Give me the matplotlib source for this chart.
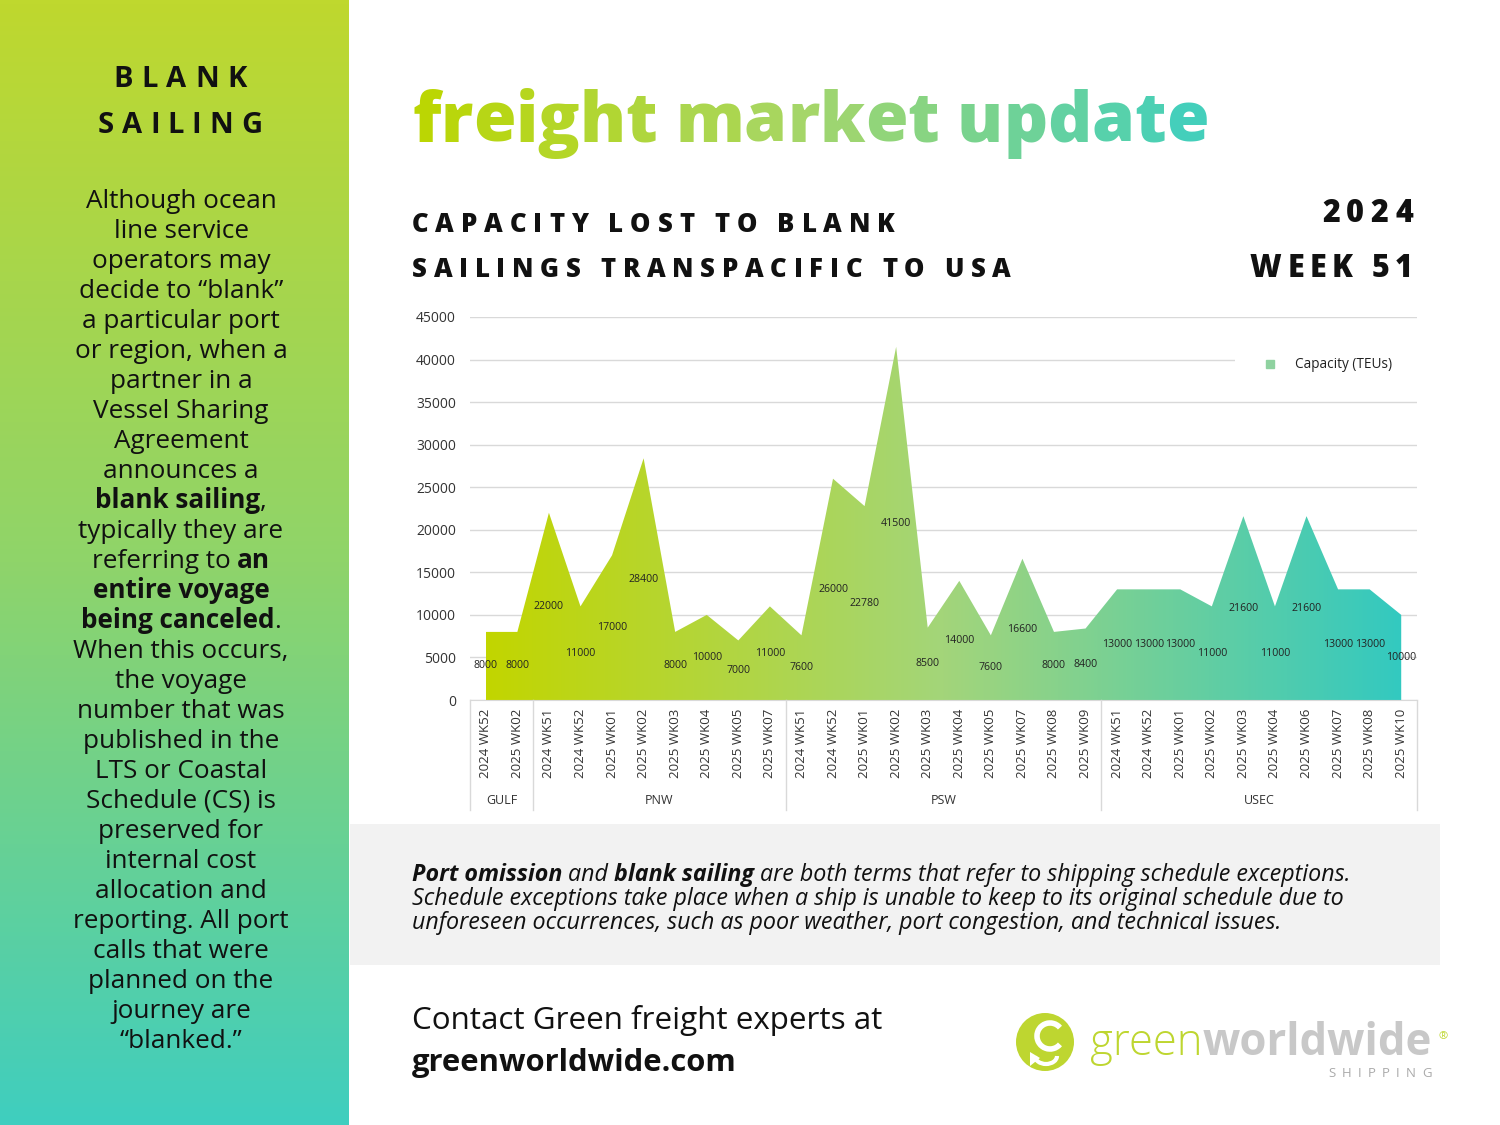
import numpy as np
import matplotlib.pyplot as plt
from matplotlib.colors import LinearSegmentedColormap
from matplotlib.patches import Rectangle, Circle, Arc, Polygon

W, H = 1500, 1125
FONT = 'Open Sans'

# ---- data ----
regions = ['GULF', 'PNW', 'PSW', 'USEC']
gulf_weeks = ['2024 WK52', '2025 WK02']
gulf_teu = [8000, 8000]
pnw_weeks = ['2024 WK51', '2024 WK52', '2025 WK01', '2025 WK02', '2025 WK03',
             '2025 WK04', '2025 WK05', '2025 WK07']
pnw_teu = [22000, 11000, 17000, 28400, 8000, 10000, 7000, 11000]
psw_weeks = ['2024 WK51', '2024 WK52', '2025 WK01', '2025 WK02', '2025 WK03',
             '2025 WK04', '2025 WK05', '2025 WK07', '2025 WK08', '2025 WK09']
psw_teu = [7600, 26000, 22780, 41500, 8500, 14000, 7600, 16600, 8000, 8400]
usec_weeks = ['2024 WK51', '2024 WK52', '2025 WK01', '2025 WK02', '2025 WK03',
              '2025 WK04', '2025 WK06', '2025 WK07', '2025 WK08', '2025 WK10']
usec_teu = [13000, 13000, 13000, 11000, 21600, 11000, 21600, 13000, 13000, 10000]

group_weeks = [gulf_weeks, pnw_weeks, psw_weeks, usec_weeks]
group_teu = [gulf_teu, pnw_teu, psw_teu, usec_teu]
weeks = sum(group_weeks, [])
teu = sum(group_teu, [])

side_cmap = LinearSegmentedColormap.from_list('side', ['#bfd82e', '#8fd46a', '#3fcebf'])
fill_cmap = LinearSegmentedColormap.from_list('fill', ['#c2d600', '#a3d57a', '#33c9c0'])
title_cmap = LinearSegmentedColormap.from_list('title', ['#bcd600', '#a5d66a', '#3fcfbf'])

fig = plt.figure(figsize=(15, 11.25), dpi=100)
bg = fig.add_axes([0, 0, 1, 1])
bg.axis('off')
rend = fig.canvas.get_renderer()


def width_of(s, size, weight='normal', style='normal'):
    t = bg.text(0, 0, s + '|', fontsize=size, fontweight=weight, fontstyle=style, family=FONT)
    u = bg.text(0, 0, '|', fontsize=size, fontweight=weight, fontstyle=style, family=FONT)
    w = t.get_window_extent(rend).width - u.get_window_extent(rend).width
    t.remove()
    u.remove()
    return w


def fit_size(s, target, weight='normal', style='normal'):
    return 20 * target / width_of(s, 20, weight, style)


def rich(x, y, parts, size, ha='left', color='#111111'):
    ws = [width_of(s, size, w, st) for s, w, st in parts]
    total = sum(ws)
    cx = {'left': x, 'center': x - total / 2, 'right': x - total}[ha]
    for (s, w, st), wd in zip(parts, ws):
        bg.text(cx, y, s, fontsize=size, fontweight=w, fontstyle=st, family=FONT,
                color=color, ha='left', va='baseline')
        cx += wd


def spaced(x, y, s, size, target=None, ha='left', weight='bold', color='#111111', cmap=None):
    ws = [width_of(c, size, weight) for c in s]
    track = (target - sum(ws)) / (len(s) - 1) if target else 0
    total = sum(ws) + track * (len(s) - 1)
    cx = {'left': x, 'center': x - total / 2, 'right': x - total}[ha]
    start = cx
    for c, wd in zip(s, ws):
        col = cmap((cx + wd / 2 - start) / total) if cmap else color
        bg.text(cx, y, c, fontsize=size, fontweight=weight, family=FONT,
                color=col, ha='left', va='baseline')
        cx += wd + track


# ---- left panel ----
bg.imshow(np.linspace(0, 1, 256).reshape(-1, 1), cmap=side_cmap,
          extent=[0, 349, H, 0], aspect='auto', zorder=0)
bg.set_xlim(0, W)
bg.set_ylim(H, 0)

spaced(180, 87, 'BLANK', 21, target=133, ha='center')
spaced(180, 133, 'SAILING', 21, target=164, ha='center')

N, B = 'normal', 'bold'
side_lines = [
    [('Although ocean', N, N)],
    [('line service', N, N)],
    [('operators may', N, N)],
    [('decide to \u201cblank\u201d', N, N)],
    [('a particular port', N, N)],
    [('or region, when a', N, N)],
    [('partner in a', N, N)],
    [('Vessel Sharing', N, N)],
    [('Agreement', N, N)],
    [('announces a', N, N)],
    [('blank sailing', B, N), (',', N, N)],
    [('typically they are', N, N)],
    [('referring to ', N, N), ('an', B, N)],
    [('entire voyage', B, N)],
    [('being canceled', B, N), ('.', N, N)],
    [('When this occurs,', N, N)],
    [('the voyage', N, N)],
    [('number that was', N, N)],
    [('published in the', N, N)],
    [('LTS or Coastal', N, N)],
    [('Schedule (CS) is', N, N)],
    [('preserved for', N, N)],
    [('internal cost', N, N)],
    [('allocation and', N, N)],
    [('reporting. All port', N, N)],
    [('calls that were', N, N)],
    [('planned on the', N, N)],
    [('journey are', N, N)],
    [('\u201cblanked.\u201d', N, N)],
]
side_size = fit_size('reporting. All port', 216)
for i, parts in enumerate(side_lines):
    rich(181, 208 + 30 * i, parts, side_size, ha='center')

# ---- title and headings ----
title_size = fit_size('freight market update', 795, weight='heavy')
spaced(412, 142, 'freight market update', title_size, weight='heavy', cmap=title_cmap)

spaced(412, 232, 'CAPACITY LOST TO BLANK', 18.5, target=483, weight='heavy')
spaced(412, 277, 'SAILINGS TRANSPACIFIC TO USA', 18.5, target=599, weight='heavy')
spaced(1413, 222, '2024', 22, target=91, ha='right', weight='heavy')
spaced(1413, 277, 'WEEK 51', 22, target=163, ha='right', weight='heavy')

# ---- chart ----
ax = fig.add_axes([470 / W, 1 - 700 / H, 947 / W, 383 / H])
x = np.arange(len(teu))
poly = ax.fill_between(x, 0, teu, facecolor='none', edgecolor='none')
im = ax.imshow(np.linspace(0, 1, 512).reshape(1, -1), cmap=fill_cmap,
               extent=[x[0], x[-1], 0, max(teu)], aspect='auto', zorder=2)
im.set_clip_path(poly.get_paths()[0], transform=ax.transData)
for i, v in enumerate(teu):
    ax.text(i, v / 2, f'{v}', ha='center', va='center', fontsize=7.6,
            family=FONT, color='#222222', zorder=3)

ax.set_xlim(-0.5, len(teu) - 0.5)
ax.set_ylim(0, 45000)
ax.set_yticks(range(0, 45001, 5000))
ax.set_xticks(x)
ax.set_xticklabels(weeks, rotation=90, fontsize=9.5, family=FONT, color='#333333')
ax.tick_params(axis='y', length=0, pad=10, labelsize=10, labelcolor='#333333')
ax.tick_params(axis='x', length=0, pad=6)
for lab in ax.get_yticklabels():
    lab.set_family(FONT)
ax.set_axisbelow(True)
ax.yaxis.grid(True, color='#d9d9d9', lw=1)
for side in ['top', 'right', 'left']:
    ax.spines[side].set_visible(False)
ax.spines['bottom'].set_color('#d9d9d9')

# region separators and names
xt = ax.get_xaxis_transform()
edges = np.cumsum([0] + [len(g) for g in group_weeks]) - 0.5
for e in edges:
    ax.plot([e, e], [0, -110 / 383], color='#d9d9d9', lw=1, transform=xt, clip_on=False)
for name, a, b in zip(regions, edges[:-1], edges[1:]):
    ax.text((a + b) / 2, -101 / 383, name, transform=xt, ha='center', va='center',
            fontsize=9, family=FONT, color='#333333')

# legend
ax.add_patch(Rectangle((0.808, 0.822), 0.2, 0.105, transform=ax.transAxes,
                       facecolor='white', edgecolor='none', zorder=1.5, clip_on=False))
ax.plot([0.845], [0.877], marker='s', ms=5.5, color='#8fd2a0', transform=ax.transAxes, zorder=3)
ax.text(0.871, 0.877, 'Capacity (TEUs)', transform=ax.transAxes, va='center',
        fontsize=9.8, family=FONT, color='#222222', zorder=3)

# ---- note box ----
bg.add_patch(Rectangle((350, 824), 1090, 141, facecolor='#f2f2f2', edgecolor='none', zorder=0))
I = 'italic'
note_size = 0.97 * fit_size('Schedule exceptions take place when a ship is unable to keep to its original schedule due to',
                            965, style=I)
rich(412, 881, [('Port omission', B, I), (' and ', N, I), ('blank sailing', B, I),
                (' are both terms that refer to shipping schedule exceptions.', N, I)], note_size)
rich(412, 905, [('Schedule exceptions take place when a ship is unable to keep to its original schedule due to', N, I)],
     note_size)
rich(412, 929, [('unforeseen occurrences, such as poor weather, port congestion, and technical issues.', N, I)],
     note_size)

# ---- contact ----
contact_size = fit_size('Contact Green freight experts at', 470)
rich(412, 1029, [('Contact Green freight experts at', N, N)], contact_size)
rich(412, 1071, [('greenworldwide.com', B, N)], fit_size('greenworldwide.com', 325, weight=B))

# ---- logo ----
bg.add_patch(Circle((1045, 1042), 29, facecolor='#bed630', edgecolor='none'))
bg.add_patch(Arc((1050, 1036), 26, 26, theta1=40, theta2=320, color='white', lw=4))
bg.add_patch(Arc((1046, 1056), 22, 16, theta1=0, theta2=180, color='white', lw=3))
bg.add_patch(Polygon([[1030, 1052], [1040, 1058], [1030, 1066]], closed=True,
                     facecolor='white', edgecolor='none'))
logo_w = width_of('green', 20, 'light') + width_of('worldwide', 20, B)
logo_size = 20 * 342 / logo_w
gw = width_of('green', logo_size, 'light')
rich(1090, 1055, [('green', 'light', N)], logo_size, color='#bed630')
rich(1090 + gw, 1055, [('worldwide', B, N)], logo_size, color='#c8c8c8')
bg.text(1443, 1037, '\u00ae', fontsize=8, family=FONT, color='#bed630', ha='center', va='center')
spaced(1432, 1077, 'SHIPPING', 9.5, target=104, ha='right', weight='normal', color='#aaaaaa')

fig.savefig('out.png', dpi=100)
